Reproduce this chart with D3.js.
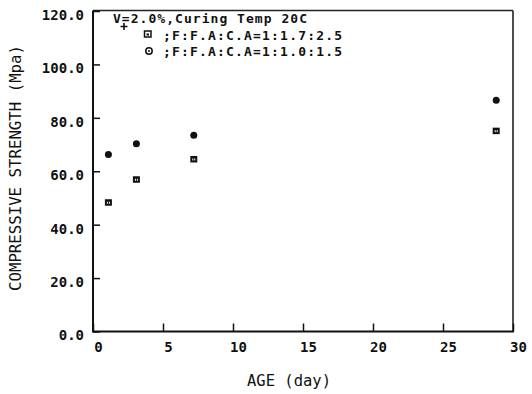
<!DOCTYPE html>
<html>
<head>
<meta charset="utf-8">
<script src="https://cdn.jsdelivr.net/npm/d3@7"></script>
<style>
html,body{margin:0;padding:0;background:#fff;}
svg{display:block;}
text{font-family:"DejaVu Sans Mono",monospace;fill:#111;font-weight:bold;}
</style>
</head>
<body>
<svg id="chart" width="532" height="394"></svg>
<script>
// ---- data ----
const ages = [1.1, 3.1, 7.2, 28.8];
const mixA = [48.4, 57.0, 64.6, 75.2];   // F:F.A:C.A = 1:1.7:2.5 (squares)
const mixB = [66.3, 70.3, 73.5, 86.6];   // F:F.A:C.A = 1:1.0:1.5 (circles)
const xTicks = [0, 5, 10, 15, 20, 25, 30];
const yTicks = [0, 20, 40, 60, 80, 100, 120];
const legendTitle = "V=2.0%,Curing Temp 20C";
const legendA = ";F:F.A:C.A=1:1.7:2.5";
const legendB = ";F:F.A:C.A=1:1.0:1.5";
const xTitle = "AGE (day)";
const yTitle = "COMPRESSIVE STRENGTH (Mpa)";

// ---- layout ----
const L = 93, R = 513, T = 10.5, B = 331.5;
const svg = d3.select("#chart");
const x = d3.scaleLinear().domain([0, 30]).range([L, R]);
const y = d3.scaleLinear().domain([0, 120]).range([B, T + 0.5]);

// frame
svg.append("line").attr("x1", L).attr("x2", R).attr("y1", T).attr("y2", T)
  .attr("stroke", "#222").attr("stroke-width", 1.3);
svg.append("line").attr("x1", R).attr("x2", R).attr("y1", T).attr("y2", B)
  .attr("stroke", "#222").attr("stroke-width", 1.6);
svg.append("line").attr("x1", L).attr("x2", L).attr("y1", T).attr("y2", B + 1)
  .attr("stroke", "#111").attr("stroke-width", 2);
svg.append("line").attr("x1", L).attr("x2", R + 1).attr("y1", B).attr("y2", B)
  .attr("stroke", "#111").attr("stroke-width", 2);

// x axis (ticks inward)
const xAxis = d3.axisBottom(x).tickValues(xTicks).tickFormat(d3.format("d"))
  .tickSizeInner(-8).tickSizeOuter(0).tickPadding(7);
const gx = svg.append("g").attr("transform", `translate(0,${B})`).call(xAxis);
gx.select(".domain").remove();
gx.selectAll(".tick line").attr("stroke", "#111").attr("stroke-width", 1.5);
gx.selectAll(".tick text").attr("font-size", "14px").attr("dx", "5")
  .attr("dy", "0.95em").style("font-family", '"DejaVu Sans Mono",monospace')
  .style("font-weight", "bold").attr("fill", "#111");

// y axis (ticks inward)
const yAxis = d3.axisLeft(y).tickValues(yTicks).tickFormat(d3.format(".1f"))
  .tickSizeInner(-7).tickSizeOuter(0).tickPadding(9);
const gy = svg.append("g").attr("transform", `translate(${L},0)`).call(yAxis);
gy.select(".domain").remove();
gy.selectAll(".tick line").attr("stroke", "#111").attr("stroke-width", 1.5);
gy.selectAll(".tick text").attr("font-size", "14px").attr("dy", "0.6em")
  .style("font-family", '"DejaVu Sans Mono",monospace')
  .style("font-weight", "bold").attr("fill", "#111");

// axis titles
svg.append("text").attr("x", 289).attr("y", 386).attr("text-anchor", "middle")
  .attr("font-size", "15.5px").style("font-weight", "normal").text(xTitle);
svg.append("text").attr("transform", "translate(21,168) rotate(-90)")
  .attr("text-anchor", "middle").attr("font-size", "15px").style("font-weight", "normal")
  .attr("textLength", 246).attr("lengthAdjust", "spacingAndGlyphs").text(yTitle);

// markers
function squareMarker(g, cx, cy) {
  g.append("rect").attr("x", cx - 3.5).attr("y", cy - 3).attr("width", 7).attr("height", 6.5).attr("fill", "#111");
  g.append("rect").attr("x", cx - 1.5).attr("y", cy - 0.5).attr("width", 1).attr("height", 2).attr("fill", "#fff");
  g.append("rect").attr("x", cx + 0.5).attr("y", cy - 0.5).attr("width", 1).attr("height", 2).attr("fill", "#fff");
}
const pts = svg.append("g");
ages.forEach((a, i) => squareMarker(pts, x(a), y(mixA[i])));
pts.selectAll("circle.b").data(ages).join("circle").attr("class", "b")
  .attr("cx", d => x(d)).attr("cy", (d, i) => y(mixB[i])).attr("r", 3.5).attr("fill", "#111");

// legend
const lg = svg.append("g");
lg.append("text").attr("x", 113).attr("y", 22.5).attr("font-size", "13px")
  .attr("textLength", 194).attr("lengthAdjust", "spacing").text(legendTitle);
lg.append("path").attr("d", "M120.5,26.5h7M124,23v7").attr("stroke", "#111").attr("stroke-width", 1.6);
// legend square (outlined)
lg.append("rect").attr("x", 144.5).attr("y", 31).attr("width", 6.5).attr("height", 6)
  .attr("fill", "none").attr("stroke", "#111").attr("stroke-width", 1.5);
lg.append("rect").attr("x", 146.5).attr("y", 33.5).attr("width", 2.5).attr("height", 2).attr("fill", "#111");
lg.append("text").attr("x", 163).attr("y", 40).attr("font-size", "13px")
  .attr("textLength", 179).attr("lengthAdjust", "spacing").text(legendA);
// legend circle (open with dot)
lg.append("circle").attr("cx", 149).attr("cy", 51).attr("r", 3.2)
  .attr("fill", "none").attr("stroke", "#111").attr("stroke-width", 1.5);
lg.append("circle").attr("cx", 149).attr("cy", 51).attr("r", 1).attr("fill", "#111");
lg.append("text").attr("x", 163).attr("y", 56).attr("font-size", "13px")
  .attr("textLength", 179).attr("lengthAdjust", "spacing").text(legendB);
</script>
</body>
</html>
